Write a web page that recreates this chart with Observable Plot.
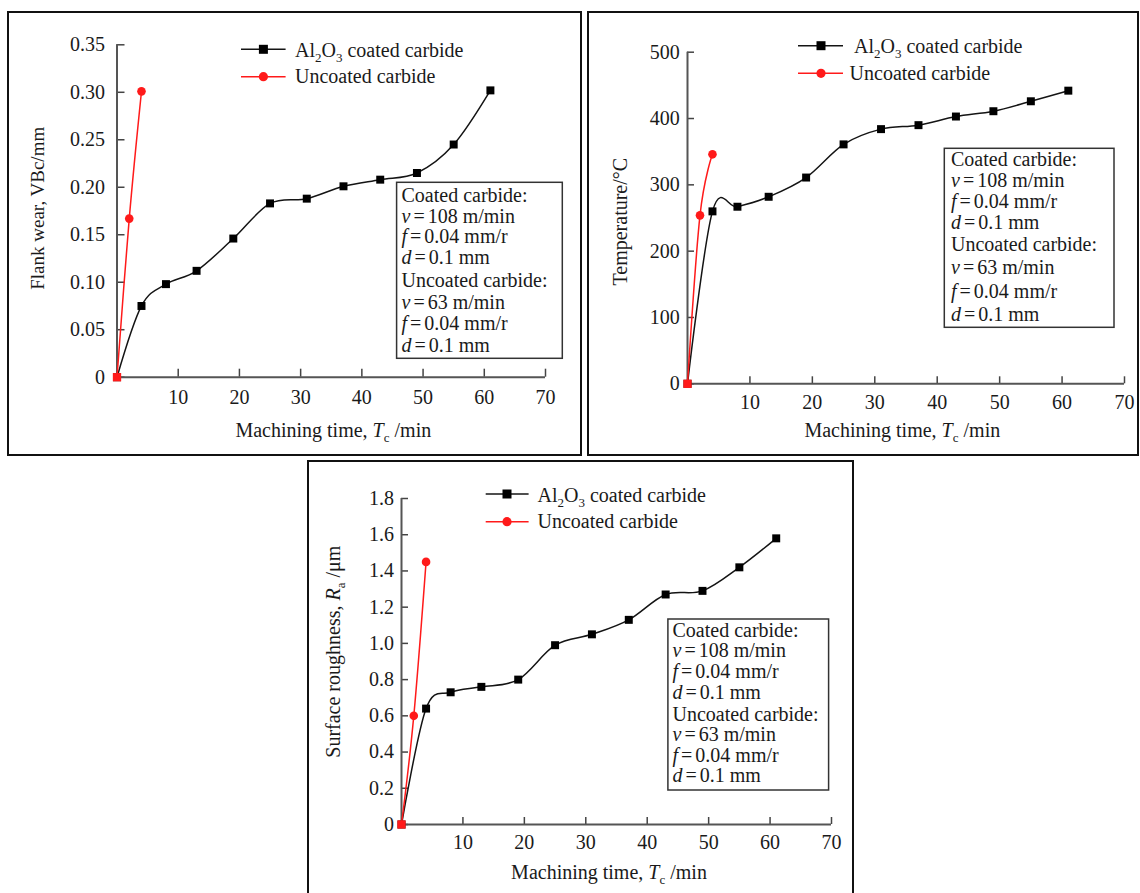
<!DOCTYPE html>
<html>
<head>
<meta charset="utf-8">
<script src="https://cdn.jsdelivr.net/npm/d3@7"></script>
<script src="https://cdn.jsdelivr.net/npm/@observablehq/plot@0.6"></script>
<style>
html, body { margin: 0; padding: 0; background: #fff; }
#page { position: relative; width: 1140px; height: 893px; overflow: hidden; background: #fff;
  font-family: "Liberation Serif", "Times New Roman", serif; }
.frame { position: absolute; box-sizing: border-box; border: 2px solid #111; }
.chart { position: absolute; }
#overlay { position: absolute; left: 0; top: 0; }
</style>
</head>
<body>
<div id="page"></div>
<script>
// ---------- DATA ----------
const xTicks = [10, 20, 30, 40, 50, 60, 70];
const coatedTime = [0, 4, 8, 13, 19, 25, 31, 37, 43, 49, 55, 61];
const uncoatedTime = [0, 2, 4];

const flankCoated = [0, 0.075, 0.098, 0.112, 0.146, 0.183, 0.188, 0.201, 0.208, 0.215, 0.245, 0.302];
const flankUncoated = [0, 0.167, 0.301];
const flankTicks = [0, 0.05, 0.10, 0.15, 0.20, 0.25, 0.30, 0.35];

const tempCoated = [0, 260, 267, 282, 311, 361, 384, 390, 403, 411, 426, 442];
const tempUncoated = [0, 254, 346];
const tempTicks = [0, 100, 200, 300, 400, 500];

const roughCoated = [0, 0.64, 0.73, 0.76, 0.80, 0.99, 1.05, 1.13, 1.27, 1.29, 1.42, 1.58];
const roughUncoated = [0, 0.60, 1.45];
const roughTicks = [0, 0.2, 0.4, 0.6, 0.8, 1.0, 1.2, 1.4, 1.6, 1.8];

const seriesNames = ["Al2O3 coated carbide", "Uncoated carbide"];
const xTitle = "Machining time, Tc /min";
const yTitles = ["Flank wear, VBc/mm", "Temperature/°C", "Surface roughness, Ra /μm"];
const boxLines = ["Coated carbide:", "v = 108 m/min", "f = 0.04 mm/r", "d = 0.1 mm",
                  "Uncoated carbide:", "v = 63 m/min", "f = 0.04 mm/r", "d = 0.1 mm"];

// ---------- LAYOUT ----------
const FONT = '"Liberation Serif", "Times New Roman", serif';
const BLACK = "#141414", RED = "#ff1a1a";
const panels = [
  { left: 7, top: 11, w: 575, h: 445, x0: 116.5, x70: 545, yTop: 44.3, yBottom: 376.7,
    coated: flankCoated, uncoated: flankUncoated, ticks: flankTicks,
    fmt: d => d === 0 ? "0" : d.toFixed(2), tick: 8, yPad: 20, xPad: 20.6,
    legend: { x1: 241, x2: 285.6, mx: 263.4, ly: [49.3, 76.7], tx: [295, 295], tb: [56.5, 82.7] },
    box: { x: 396.6, y: 182.3, w: 165.7, h: 176, tx: 401.5, b: [201.5, 222.5, 243.2, 264, 287, 308.5, 330, 351.5] },
    xt: { cx: 333.3, b: 436.7 }, yt: { bx: 44, cy: 208.3, fs: 19 } },
  { left: 587, top: 11, w: 552, h: 445, x0: 687, x70: 1124, yTop: 51.7, yBottom: 383.3,
    coated: tempCoated, uncoated: tempUncoated, ticks: tempTicks,
    fmt: d => String(d), tick: 7, yPad: 14.7, xPad: 18,
    legend: { x1: 798, x2: 843, mx: 821, ly: [45.7, 73.3], tx: [854, 849.6], tb: [53.3, 80] },
    box: { x: 944.3, y: 148.3, w: 169.7, h: 179, tx: 951, b: [165.7, 186.7, 207.7, 228.5, 251, 274, 297.5, 321] },
    xt: { cx: 902.3, b: 437.3 }, yt: { bx: 627, cy: 221.7, fs: 20 } },
  { left: 307, top: 460, w: 547, h: 433, x0: 401, x70: 831, yTop: 498, yBottom: 824,
    coated: roughCoated, uncoated: roughUncoated, ticks: roughTicks,
    fmt: d => d === 0 ? "0" : d.toFixed(1), tick: 7, yPad: 14.4, xPad: 17.3,
    legend: { x1: 485.7, x2: 528.6, mx: 507, ly: [494, 521.7], tx: [537.5, 537.5], tb: [501.7, 528.3] },
    box: { x: 667.9, y: 619, w: 160.7, h: 171, tx: 672.5, b: [636.7, 657.3, 678, 698.7, 720.5, 741.2, 761.5, 782] },
    xt: { cx: 609, b: 879 }, yt: { bx: 340, cy: 651.7, fs: 20 } }
];

const page = document.getElementById("page");

// frames
panels.forEach(p => {
  const f = document.createElement("div");
  f.className = "frame";
  Object.assign(f.style, { left: p.left + "px", top: p.top + "px", width: p.w + "px", height: (p.h + (p.top > 400 ? 20 : 0)) + "px" });
  page.appendChild(f);
});

// charts
panels.forEach(p => {
  const coated = p.coated.map((v, i) => ({ t: coatedTime[i], v }));
  const uncoated = p.uncoated.map((v, i) => ({ t: uncoatedTime[i], v, first: i === 0 }));
  const yMax = p.ticks[p.ticks.length - 1];
  const chart = Plot.plot({
    width: p.w, height: p.h,
    marginLeft: p.x0 - p.left, marginRight: p.left + p.w - p.x70,
    marginTop: p.yTop - p.top, marginBottom: p.top + p.h - p.yBottom,
    style: { fontFamily: FONT, fontSize: "20px", color: "#1a1a1a", background: "transparent", overflow: "visible" },
    x: { domain: [0, 70] },
    y: { domain: [0, yMax] },
    marks: [
      Plot.axisX({ ticks: xTicks, tickSize: -p.tick, tickPadding: p.xPad, label: null, stroke: "#444", strokeWidth: 1.5 }),
      Plot.axisY({ ticks: p.ticks, tickFormat: p.fmt, tickSize: -p.tick, tickPadding: p.yPad, label: null, stroke: "#444", strokeWidth: 1.5 }),
      Plot.ruleX([0], { stroke: "#555", strokeWidth: 2 }),
      Plot.ruleY([0], { stroke: "#555", strokeWidth: 2 }),
      Plot.line(coated, { x: "t", y: "v", curve: "cardinal", stroke: BLACK, strokeWidth: 1.5 }),
      Plot.dot(coated, { x: "t", y: "v", symbol: "square", fill: "#000", r: 4.5 }),
      Plot.line(uncoated, { x: "t", y: "v", curve: "cardinal", stroke: RED, strokeWidth: 1.5 }),
      Plot.dot(uncoated, { filter: d => !d.first, x: "t", y: "v", fill: RED, r: 4.3 }),
      Plot.dot(uncoated, { filter: d => d.first, x: "t", y: "v", symbol: "square", fill: RED, r: 4.7 })
    ]
  });
  chart.classList.add("chart");
  chart.style.left = p.left + "px";
  chart.style.top = p.top + "px";
  page.appendChild(chart);
});

// ---------- overlay text (legends, parameter boxes, axis titles) ----------
const SUB = (s) => `<tspan font-size="13" dy="5">${s}</tspan>`;
const UNSUB = (s) => `<tspan dy="-5">${s}</tspan>`;
function richSeries(name) {
  if (name.startsWith("Al2O3")) return "Al" + SUB("2") + UNSUB("O") + SUB("3") + UNSUB(name.slice(5));
  return name;
}
function richBoxLine(s) {
  const m = s.match(/^([vfd]) = (.*)$/);
  if (!m) return s;
  return `<tspan font-style="italic">${m[1]}</tspan><tspan dx="3">=</tspan><tspan dx="3">${m[2]}</tspan>`;
}
function richXTitle(s) {
  const [a, b] = s.split("Tc");
  return a + `<tspan font-style="italic">T</tspan>` + SUB("c") + UNSUB(b);
}
function richYTitle(s) {
  if (s.includes("Ra")) {
    const [a, b] = s.split("Ra");
    return a + `<tspan font-style="italic">R</tspan>` + SUB("a") + UNSUB(b);
  }
  return s;
}

let svg = `<svg id="overlay" width="1140" height="893" xmlns="http://www.w3.org/2000/svg" font-family='${FONT}' fill="#1a1a1a">`;
panels.forEach((p, k) => {
  const L = p.legend;
  svg += `<line x1="${L.x1}" x2="${L.x2}" y1="${L.ly[0]}" y2="${L.ly[0]}" stroke="${BLACK}" stroke-width="1.5"/>`;
  svg += `<rect x="${L.mx - 4.5}" y="${L.ly[0] - 4.5}" width="9" height="9" fill="#000"/>`;
  svg += `<line x1="${L.x1}" x2="${L.x2}" y1="${L.ly[1]}" y2="${L.ly[1]}" stroke="${RED}" stroke-width="1.5"/>`;
  svg += `<circle cx="${L.mx}" cy="${L.ly[1]}" r="4.6" fill="${RED}"/>`;
  seriesNames.forEach((n, i) => {
    svg += `<text x="${L.tx[i]}" y="${L.tb[i]}" font-size="20">${richSeries(n)}</text>`;
  });
  const B = p.box;
  svg += `<rect x="${B.x}" y="${B.y}" width="${B.w}" height="${B.h}" fill="none" stroke="#333" stroke-width="1.5"/>`;
  boxLines.forEach((s, i) => {
    svg += `<text x="${B.tx}" y="${B.b[i]}" font-size="20">${richBoxLine(s)}</text>`;
  });
  svg += `<text x="${p.xt.cx}" y="${p.xt.b}" font-size="20" text-anchor="middle">${richXTitle(xTitle)}</text>`;
  svg += `<text transform="translate(${p.yt.bx},${p.yt.cy}) rotate(-90)" font-size="${p.yt.fs}" text-anchor="middle">${richYTitle(yTitles[k])}</text>`;
});
svg += `</svg>`;
page.insertAdjacentHTML("beforeend", svg);
</script>
</body>
</html>
